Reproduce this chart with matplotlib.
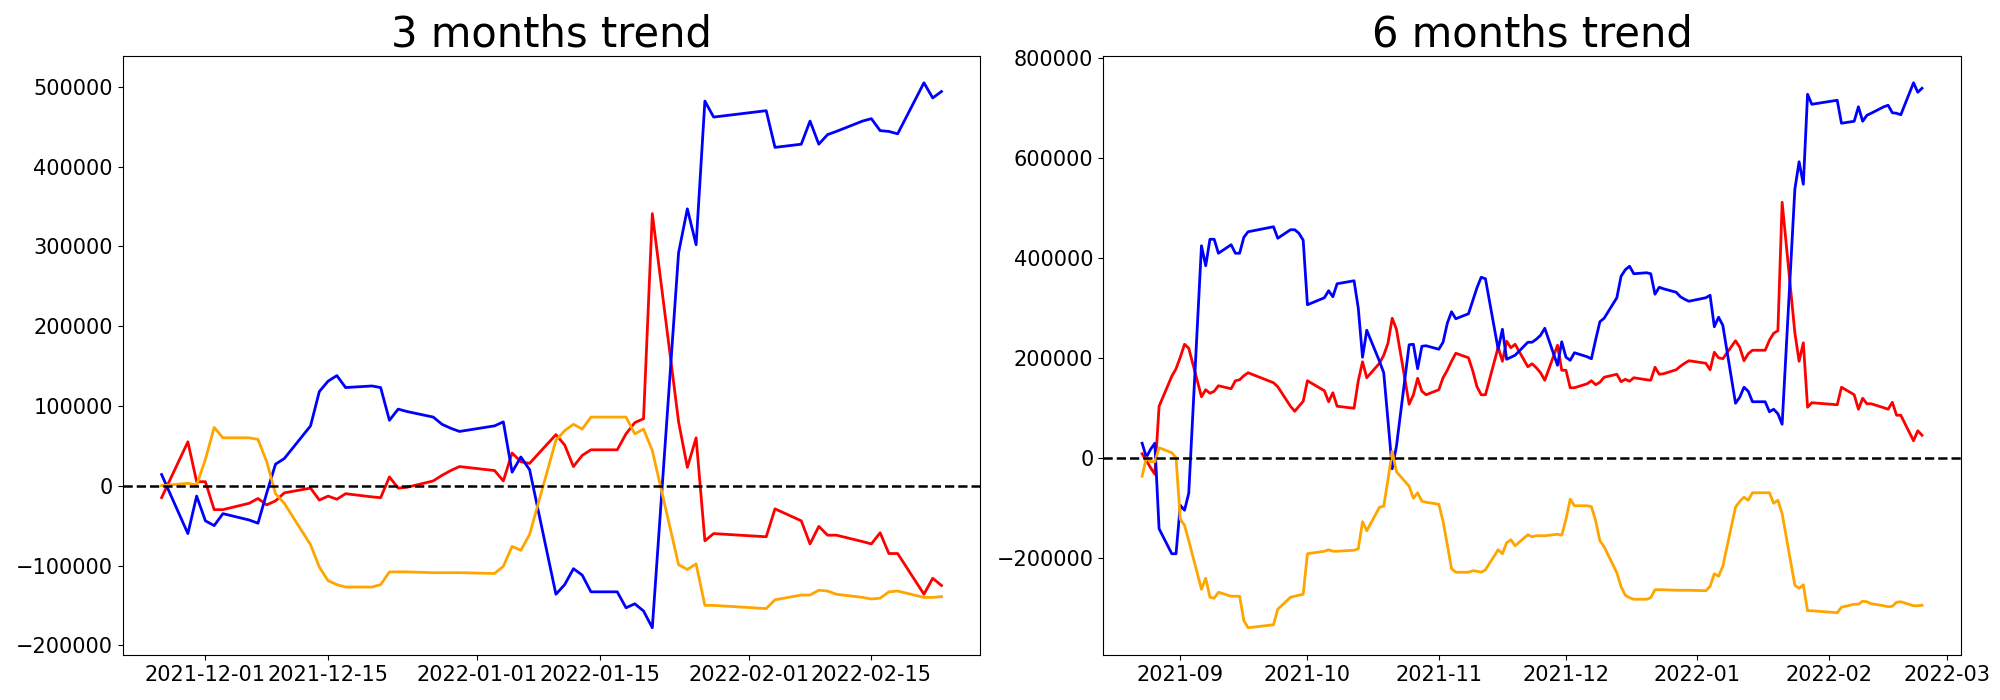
import numpy as np
import pandas as pd
import matplotlib
matplotlib.use("Agg")
import matplotlib.pyplot as plt

# trading days (KRX calendar)
krx_holidays = ["2021-09-20", "2021-09-21", "2021-09-22", "2021-10-04", "2021-10-11",
                "2021-12-31", "2022-01-31", "2022-02-01", "2022-02-02"]
dates_6m = pd.bdate_range("2021-08-23", "2022-02-23", freq="C", holidays=krx_holidays)
dates_3m = pd.bdate_range("2021-11-26", "2022-02-23", freq="C", holidays=krx_holidays)

# cumulative net values, in thousands
blue_3m = [14, -60, -13, -44, -50, -35, -43, -47, -9, 27, 34,
           75, 118, 131, 138, 123, 125, 123, 82, 96, 93, 86, 77, 72, 68,
           75, 80, 17, 36, 20, -136, -124, -104, -112, -133, -133, -153, -148, -157, -178,
           292, 347, 302, 482, 462, 470, 424, 428, 457, 428, 440, 444,
           457, 460, 445, 444, 441, 505, 486, 494]
red_3m = [-15, 55, 5, 5, -30, -30, -22, -16, -24, -19, -9,
          -3, -18, -13, -17, -10, -14, -15, 11, -3, -2, 6, 13, 19, 24,
          19, 6, 41, 30, 28, 64, 51, 24, 38, 45, 45, 65, 79, 84, 341,
          80, 23, 60, -69, -60, -64, -29, -44, -73, -51, -62, -62,
          -70, -73, -59, -85, -85, -136, -116, -125]
orange_3m = [0, 3, 1, 33, 73, 60, 60, 58, 30, -10, -22,
             -74, -102, -119, -124, -127, -127, -124, -108, -108, -108, -109, -109, -109, -109,
             -110, -101, -76, -81, -61, 57, 69, 77, 71, 86, 86, 86, 65, 71, 44,
             -99, -105, -98, -150, -150, -154, -143, -137, -137, -131, -132, -136,
             -140, -142, -141, -133, -132, -140, -140, -139]

blue_6m = [30, 2, 18, 30, -141, -191, -191,
           -94, -104, -70, 425, 385, 438, 438, 410, 427, 410, 410, 442, 453, 463, 440, 457, 457, 450, 436,
           307, 321, 335, 323, 349, 355, 300, 202, 256, 194, 171, 76, -21, 24, 227, 228, 179, 224, 225,
           218, 232, 270, 293, 279, 289, 315, 341, 362, 359, 218, 258, 198, 202, 206, 232, 232, 238, 246,
           260, 186, 233, 202, 196, 211, 203, 199, 237, 273, 280, 321, 364, 377, 384, 369, 371, 369,
           328, 342, 339, 332, 323, 318, 314,
           321, 326, 263, 282, 266, 110, 122, 142, 134, 113, 113, 93, 98, 89, 68, 538, 593, 548, 728, 708,
           716, 670, 674, 703, 674, 686, 690, 703, 706, 691, 690, 687, 751, 732, 740]
red_6m = [9, -5, -19, -32, 104, 164, 179,
          202, 228, 220, 123, 137, 130, 134, 145, 139, 155, 157, 165, 171, 151, 143, 104, 94, 104, 114,
          155, 135, 113, 131, 104, 100, 155, 193, 161, 190, 206, 230, 280, 258, 108, 127, 160, 134, 127,
          137, 161, 176, 194, 210, 201, 175, 143, 127, 127, 222, 194, 234, 221, 228, 183, 189, 181, 171,
          156, 226, 176, 176, 141, 141, 149, 155, 147, 152, 162, 168, 153, 158, 154, 161, 157, 156,
          182, 168, 169, 177, 184, 190, 195,
          190, 177, 212, 201, 199, 235, 222, 195, 209, 216, 216, 236, 250, 255, 512, 251, 194, 231, 102, 111,
          107, 142, 127, 98, 120, 109, 109, 101, 98, 112, 86, 86, 35, 55, 46]
orange_6m = [-36, 1, -7, -7, 21, 11, 1,
             -122, -134, -165, -262, -240, -278, -280, -268, -276, -276, -276, -325, -339, -333, -302,
             -278, -276, -274, -272,
             -191, -186, -183, -186, -186, -184, -181, -127, -145, -98, -96, -43, 14, -27, -56, -80, -69,
             -86, -88,
             -92, -126, -173, -221, -228, -228, -225, -226, -228, -223, -183, -191, -169, -163, -175,
             -153, -157, -155, -155,
             -155, -152, -154, -122, -82, -95, -95, -97, -125, -165, -177, -229, -257, -274, -279, -282,
             -282, -279, -263, -263, -263, -264, -264, -264, -264,
             -265, -256, -231, -236, -216, -98, -86, -78, -84, -69, -69, -69, -90, -84, -111, -254, -260,
             -253, -305, -305,
             -309, -298, -292, -292, -286, -287, -291, -295, -297, -296, -288, -287, -295, -295, -294]


def draw_trend(ax, dates, red, orange, blue, title):
    ax.plot(dates, np.array(red) * 1000, color="red", linewidth=2)
    ax.plot(dates, np.array(blue) * 1000, color="blue", linewidth=2)
    ax.plot(dates, np.array(orange) * 1000, color="orange", linewidth=2)
    ax.axhline(0, color="black", linestyle="--", linewidth=1.8)
    ax.set_title(title, fontsize=30)
    ax.tick_params(labelsize=15)


def main():
    fig, (ax1, ax2) = plt.subplots(1, 2, figsize=(20, 7), dpi=100)
    draw_trend(ax1, dates_3m, red_3m, orange_3m, blue_3m, "3 months trend")
    draw_trend(ax2, dates_6m, red_6m, orange_6m, blue_6m, "6 months trend")
    fig.subplots_adjust(left=0.0613, right=0.9805, bottom=0.0643, top=0.9207, wspace=0.143)
    fig.savefig("out.png", dpi=100)
    plt.close(fig)


if __name__ == "__main__":
    main()
